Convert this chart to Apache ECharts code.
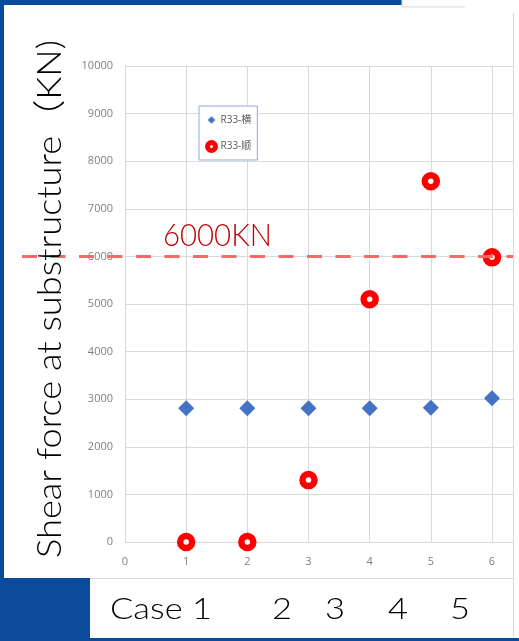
<!DOCTYPE html>
<html>
<head>
<meta charset="utf-8">
<script src="https://cdn.jsdelivr.net/npm/echarts@6/dist/echarts.min.js"></script>
<style>
  html, body { margin: 0; padding: 0; background: #ffffff; }
  #chart { width: 519px; height: 641px; }
</style>
</head>
<body>
<div id="chart"></div>
<script>
// Load cases on the x axis
const caseIndex = [1, 2, 3, 4, 5, 6];
// Shear force at substructure (kN) per case
const r33Heng = [2810, 2810, 2810, 2810, 2820, 3020];
const r33Shun = [0, 0, 1300, 5100, 7580, 5980];
const seriesNames = ['R33-横', 'R33-顺'];

// Design limit
const limitValue = 6000;
const limitLabel = '6000KN';

// Texts around the plot
const yTitle = 'Shear force at substructure（KN)';
const caseLabels = ['Case 1', '2', '3', '4', '5'];

const BLUE = '#0a4a9a';
const SANS = 'Lato, "Noto Sans CJK SC", sans-serif';
const SMALL = '"Open Sans", "Noto Sans CJK SC", sans-serif';
const LIGHT = 300;

// width of a string in a given font, used to stretch slide texts
const ctx = document.createElement('canvas').getContext('2d');
function textWidth(str, size, family, weight) {
  ctx.font = weight + ' ' + size + 'px ' + family;
  return ctx.measureText(str).width;
}

const chart = echarts.init(document.getElementById('chart'), null, { renderer: 'canvas' });

const hengData = caseIndex.map((x, i) => [x, r33Heng[i]]);
const shunData = caseIndex.map((x, i) => [x, r33Shun[i]]);

chart.setOption({
  backgroundColor: '#ffffff',
  animation: false,
  grid: { left: 125, top: 66, right: 5.6, bottom: 99, containLabel: false },
  xAxis: {
    type: 'value', min: 0, max: 6.35, interval: 1,
    axisLine: { show: true, lineStyle: { color: '#d9d9d9', width: 1 } },
    axisTick: { show: false },
    splitLine: { show: true, lineStyle: { color: '#d9d9d9', width: 1 } },
    axisLabel: {
      margin: 14, color: '#808080', fontSize: 11, fontFamily: SMALL,
      formatter: v => (Number.isInteger(v) ? String(v) : '')
    }
  },
  yAxis: {
    type: 'value', min: 0, max: 10000, interval: 1000,
    axisLine: { show: true, lineStyle: { color: '#d9d9d9', width: 1 } },
    axisTick: { show: false },
    splitLine: { show: true, lineStyle: { color: '#d9d9d9', width: 1 } },
    axisLabel: {
      margin: 12, color: '#808080', fontSize: 11, fontFamily: SMALL,
      formatter: v => String(v)
    }
  },
  legend: {
    left: 199, top: 106, orient: 'vertical',
    padding: [9, 6, 7, 6], itemGap: 15, itemTextGap: 4,
    itemWidth: 8, itemHeight: 8,
    borderColor: '#8faadc', borderWidth: 1, borderRadius: 0,
    backgroundColor: '#ffffff',
    textStyle: { color: '#595959', fontSize: 10, fontFamily: SMALL },
    data: [
      { name: seriesNames[0], icon: 'diamond',
        itemStyle: { color: '#4472c4', borderColor: '#ffffff', borderWidth: 0.5 } },
      { name: seriesNames[1], icon: 'circle',
        itemStyle: { color: '#ffffff', borderColor: '#ff0000', borderWidth: 5 } }
    ]
  },
  series: [
    {
      name: seriesNames[0], type: 'scatter', clip: false,
      symbol: 'diamond', symbolSize: [16, 16],
      itemStyle: { color: '#4472c4', opacity: 1 },
      data: hengData, z: 3
    },
    {
      name: seriesNames[1], type: 'scatter', clip: false,
      symbol: 'circle', symbolSize: 12,
      itemStyle: { color: '#ffffff', borderColor: '#ff0000', borderWidth: 6.5, opacity: 1 },
      data: shunData, z: 4
    }
  ]
});

// Slide frame, limit line and slide texts
const limitY = chart.convertToPixel({ yAxisIndex: 0 }, limitValue);

const titleSize = 33;
const titleScale = 518 / textWidth(yTitle, titleSize, SANS, LIGHT);

const limitSize = 32;
const limitScale = 109 / textWidth(limitLabel, limitSize, SANS, LIGHT);

const caseSize = 30;
const caseScale = 102 / textWidth(caseLabels[0], caseSize, SANS, LIGHT);
const caseLeft = [110, 272, 325, 388, 450];

const graphics = [
  // blue slide background pieces
  { type: 'rect', shape: { x: 0, y: 0, width: 402, height: 5 }, style: { fill: BLUE }, z: 0 },
  { type: 'rect', shape: { x: 0, y: 0, width: 4, height: 641 }, style: { fill: BLUE }, z: 0 },
  { type: 'rect', shape: { x: 0, y: 578, width: 90, height: 63 }, style: { fill: BLUE }, z: 0 },
  { type: 'rect', shape: { x: 0, y: 638, width: 519, height: 3 }, style: { fill: BLUE }, z: 0 },
  // thin panel edges
  { type: 'polyline', shape: { points: [[402, 0], [402, 7], [465, 7]] },
    style: { stroke: '#d9d9d9', lineWidth: 1, fill: null }, z: 0 },
  { type: 'line', shape: { x1: 513.5, y1: 13, x2: 513.5, y2: 638 },
    style: { stroke: '#d9d9d9', lineWidth: 1 }, z: 0 },
  { type: 'line', shape: { x1: 90, y1: 578.5, x2: 513, y2: 578.5 },
    style: { stroke: '#d9d9d9', lineWidth: 1 }, z: 0 },
  // limit line
  { type: 'line', shape: { x1: 22, y1: limitY, x2: 513, y2: limitY },
    style: { stroke: '#ff6666', lineWidth: 3, lineDash: [15, 13.5] }, z: 10 },
  { type: 'text', x: 163, y: limitY - 5, scaleX: limitScale,
    style: { text: limitLabel, fill: '#c00000', fontSize: limitSize, fontFamily: SANS,
             fontWeight: LIGHT, textAlign: 'left', textVerticalAlign: 'bottom' }, z: 10 },
  // vertical axis title
  { type: 'text', x: 50, y: 299, rotation: Math.PI / 2, scaleX: titleScale,
    style: { text: yTitle, fill: '#000000', fontSize: titleSize, fontFamily: SANS,
             fontWeight: LIGHT, textAlign: 'center', textVerticalAlign: 'middle' }, z: 10 }
];

caseLabels.forEach((label, i) => {
  graphics.push({
    type: 'text', x: caseLeft[i], y: 609, scaleX: caseScale,
    style: { text: label, fill: '#000000', fontSize: caseSize, fontFamily: SANS,
             fontWeight: LIGHT, textAlign: 'left', textVerticalAlign: 'middle' }, z: 10
  });
});

chart.setOption({ graphic: graphics });
</script>
</body>
</html>
